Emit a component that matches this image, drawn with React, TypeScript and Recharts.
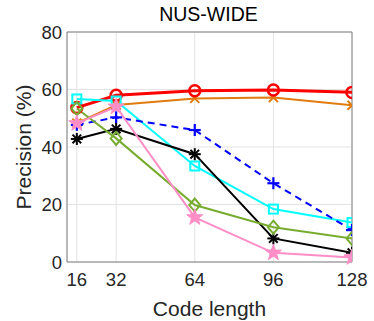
import { CartesianGrid, Line, LineChart, ReferenceLine, XAxis, YAxis } from "recharts";

const codeLengths = [16, 32, 64, 96, 128];
const redCircle = [53.7, 58.0, 59.6, 59.8, 59.0];
const orangeCross = [48.3, 54.6, 56.9, 57.2, 54.5];
const cyanSquare = [56.7, 56.0, 33.4, 18.4, 13.7];
const bluePlus = [47.7, 50.3, 45.9, 27.4, 11.1];
const blackStar = [42.8, 46.3, 37.5, 8.2, 3.2];
const greenDiamond = [53.4, 43.0, 19.8, 12.1, 8.2];
const pinkStar = [48.2, 54.0, 15.5, 3.2, 1.6];

const yTicks = [0, 20, 40, 60, 80];

const chartData = codeLengths.map((bits, i) => ({
    bits,
    red: redCircle[i],
    orange: orangeCross[i],
    cyan: cyanSquare[i],
    blue: bluePlus[i],
    black: blackStar[i],
    green: greenDiamond[i],
    pink: pinkStar[i],
}));

const makeDot = (kind: string, color: string) => (props: any) => {
    const { cx, cy, index } = props;
    if (cx == null || cy == null) return <g key={index} />;
    const k = `${kind}-${index}`;
    switch (kind) {
        case "circle":
            return <circle key={k} cx={cx} cy={cy} r={5.5} fill="none" stroke={color} strokeWidth={2.5} />;
        case "square":
            return <rect key={k} x={cx - 4.5} y={cy - 4.5} width={9} height={9} fill="none" stroke={color} strokeWidth={2} />;
        case "diamond":
            return (
                <polygon key={k} points={`${cx},${cy - 6.5} ${cx + 5.5},${cy} ${cx},${cy + 6.5} ${cx - 5.5},${cy}`}
                    fill="none" stroke={color} strokeWidth={2} />
            );
        case "plus":
            return (
                <g key={k} stroke={color} strokeWidth={2.2}>
                    <line x1={cx - 6} y1={cy} x2={cx + 6} y2={cy} />
                    <line x1={cx} y1={cy - 6} x2={cx} y2={cy + 6} />
                </g>
            );
        case "cross":
            return (
                <g key={k} stroke={color} strokeWidth={2}>
                    <line x1={cx - 4.5} y1={cy - 4.5} x2={cx + 4.5} y2={cy + 4.5} />
                    <line x1={cx - 4.5} y1={cy + 4.5} x2={cx + 4.5} y2={cy - 4.5} />
                </g>
            );
        case "asterisk":
            return (
                <g key={k} stroke={color} strokeWidth={2}>
                    <line x1={cx - 6} y1={cy} x2={cx + 6} y2={cy} />
                    <line x1={cx} y1={cy - 6} x2={cx} y2={cy + 6} />
                    <line x1={cx - 4.3} y1={cy - 4.3} x2={cx + 4.3} y2={cy + 4.3} />
                    <line x1={cx - 4.3} y1={cy + 4.3} x2={cx + 4.3} y2={cy - 4.3} />
                </g>
            );
        case "star": {
            const pts: string[] = [];
            for (let j = 0; j < 10; j++) {
                const r = j % 2 === 0 ? 8.5 : 3.4;
                const a = -Math.PI / 2 + (j * Math.PI) / 5;
                pts.push(`${cx + r * Math.cos(a)},${cy + r * Math.sin(a)}`);
            }
            return <polygon key={k} points={pts.join(" ")} fill={color} stroke={color} strokeWidth={1} />;
        }
        default:
            return <g key={k} />;
    }
};

const font = "Liberation Sans, Arial, sans-serif";
const tickStyle = { fontSize: 18.5, fill: "#262626", fontFamily: font };

export default function App() {
    return (
        <div style={{ position: "absolute", left: 0, top: 0, width: 374, height: 321, background: "#fff" }}>
            <div style={{ position: "absolute", left: 66, width: 285, top: 3, textAlign: "center", fontFamily: font, fontSize: 19.5, color: "#000" }}>
                NUS-WIDE
            </div>
            <LineChart width={374} height={321} data={chartData}
                margin={{ top: 32, right: 22, bottom: 0, left: 0 }}
                style={{ fontFamily: font }}>
                <CartesianGrid stroke="#e3e3e3" strokeWidth={1} />
                <XAxis dataKey="bits" type="number" domain={[12, 128]} ticks={codeLengths}
                    allowDataOverflow height={59} tick={tickStyle} tickSize={4} tickMargin={7}
                    tickLine={false} stroke="#808080"
                    label={{ value: "Code length", position: "insideBottom", offset: 5, fontSize: 21, fill: "#262626" }} />
                <YAxis type="number" domain={[0, 80]} ticks={yTicks} width={67} tick={tickStyle}
                    tickSize={4} tickMargin={1} tickLine={false} stroke="#808080"
                    label={{ value: "Precision (%)", angle: -90, position: "insideLeft", offset: 24, fontSize: 21, fill: "#262626", style: { textAnchor: "middle" } }} />
                <ReferenceLine y={80} stroke="#808080" strokeWidth={1} />
                <ReferenceLine x={128} stroke="#808080" strokeWidth={1} />
                <Line dataKey="orange" stroke="#e07b10" strokeWidth={2} dot={makeDot("cross", "#e07b10")} isAnimationActive={false} />
                <Line dataKey="red" stroke="#ff0000" strokeWidth={3} dot={makeDot("circle", "#ff0000")} isAnimationActive={false} />
                <Line dataKey="cyan" stroke="#00ffff" strokeWidth={2} dot={makeDot("square", "#00ffff")} isAnimationActive={false} />
                <Line dataKey="blue" stroke="#0000ff" strokeWidth={2} strokeDasharray="7 5" dot={makeDot("plus", "#0000ff")} isAnimationActive={false} />
                <Line dataKey="black" stroke="#000000" strokeWidth={2} dot={makeDot("asterisk", "#000000")} isAnimationActive={false} />
                <Line dataKey="green" stroke="#77ac30" strokeWidth={2} dot={makeDot("diamond", "#77ac30")} isAnimationActive={false} />
                <Line dataKey="pink" stroke="#ff8ec6" strokeWidth={2} dot={makeDot("star", "#ff8ec6")} isAnimationActive={false} />
            </LineChart>
        </div>
    );
}
